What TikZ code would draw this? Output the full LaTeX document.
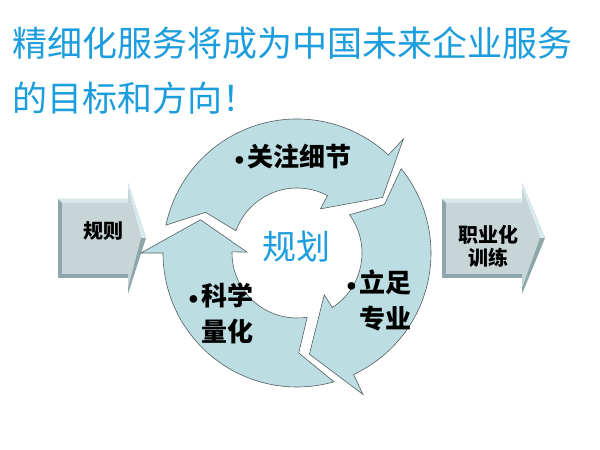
\documentclass[tikz,border=0pt]{standalone}
\usepackage{fontspec}
\newfontfamily\cjk{Noto Sans CJK SC}
\usepackage{tikz}
\usetikzlibrary{positioning}

\definecolor{titleblue}{RGB}{27,157,222}
\definecolor{ringfill}{RGB}{188,222,226}
\definecolor{ringline}{RGB}{85,95,97}
\definecolor{boxface}{RGB}{200,213,214}
\definecolor{boxdark}{RGB}{140,166,170}
\definecolor{boxlight}{RGB}{216,234,236}

% one arrow of the cycle: tail out, tail in, notch, head out, head in, tip
\newcommand{\ringarrow}[6]{%
  \filldraw[ring] (#1:134) arc[start angle=#1, end angle=#4, radius=134]
    -- (#4:156) -- (#6:102) -- (#5:50) -- (#5:65)
    arc[start angle=#5, end angle=#2, radius=65] -- (#3:100) -- cycle;}

% box arrow: left x, head x, tip x
\newcommand{\boxarrow}[3]{%
  \fill[boxdark] (#1,172) -- (#2,172) -- (#2,156) -- (#3,212) -- (#2,267) -- (#2,251) -- (#1,251) -- cycle;
  \fill[boxlight] (#2,267) -- (#3,212) -- (#3-5,212) -- (#2,261) -- cycle;
  \fill[boxlight] (#1,251) -- (#2,251) -- (#2,247) -- (#1+4,247) -- cycle;
  \fill[boxface] (#1+4,176) -- (#2,176) -- (#2,162) -- (#3-5,212) -- (#2,261) -- (#2,247) -- (#1+4,247) -- cycle;}

\newcommand{\dotmark}{\textbullet\kern-3pt}

\tikzset{
  ring/.style={fill=ringfill, draw=ringline, line width=0.6pt},
  title/.style={anchor=west, text=titleblue, inner sep=0pt, font=\cjk\fontsize{35}{40}\selectfont},
  label/.style={align=right, inner sep=0pt, font=\bfseries\fontsize{26}{36}\selectfont},
  boxlabel/.style={align=center, inner sep=0pt, font=\cjk\bfseries\fontsize{20}{23}\selectfont},
}

\begin{document}
\begin{tikzpicture}[x=1pt, y=1pt]
  \useasboundingbox (0,0) rectangle (600,450);
  \fill[white] (0,0) rectangle (600,450);

  \node[title] (title1) at (12,407) {精细化服务将成为中国未来企业服务};
  \node[title, below=55pt of title1.west, anchor=west] (title2) {的目标和方向！};

  \boxarrow{58}{128}{146}
  \boxarrow{442}{522}{545}
  \node[boxlabel] (rule) at (103,219) {规则};
  \node[boxlabel] (train) at (488,204) {职业化\\训练};

  \begin{scope}[shift={(297,197)}]
    \ringarrow{168}{160}{156}{47}{62}{33}
    \ringarrow{39}{36}{29}{-65}{-57}{-83}
    \ringarrow{-74}{-81}{-89}{-180}{-181}{-199}
  \end{scope}

  \node[text=titleblue, font=\cjk\fontsize{34}{40}\selectfont, inner sep=0pt] (plan) at (296,203) {规划};
  \node[label, anchor=east] (detail) at (352,293) {\dotmark{\cjk 关注细节}};
  \node[label, anchor=east] (measure) at (254,137) {\dotmark{\cjk 科学}\\{\cjk 量化}};
  \node[label, anchor=east] (expert) at (412,149) {\dotmark{\cjk 立足}\\{\cjk 专业}};
\end{tikzpicture}
\end{document}
